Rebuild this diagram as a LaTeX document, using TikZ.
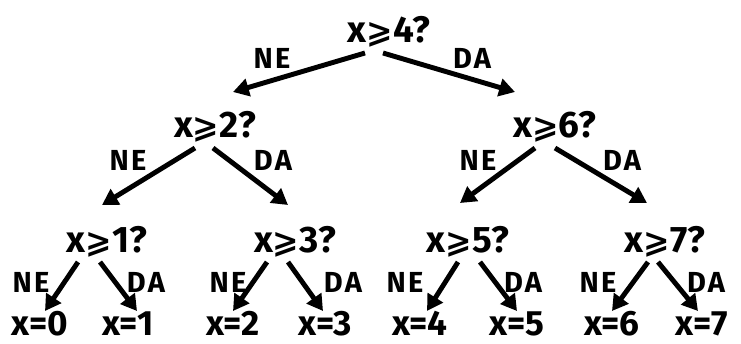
\documentclass[tikz,border=0pt]{standalone}
\usepackage{fontspec}
\setmainfont{Fira Sans}
\newfontfamily\symfont{DejaVu Sans}
\usetikzlibrary{arrows.meta}
\newcommand{\gsl}{{\symfont\bfseries\fontsize{18}{20}\selectfont ⩾}}
\begin{document}
\begin{tikzpicture}[x=0.02cm, y=-0.02cm]
  % Define styles
  \tikzstyle{question}=[anchor=base, inner sep=0pt, font=\fontsize{21}{24}\selectfont\bfseries]
  \tikzstyle{leaf}=[anchor=base, inner sep=0pt, font=\fontsize{20}{23}\selectfont\bfseries]
  \tikzstyle{answer}=[inner sep=0pt, font=\fontsize{16.5}{19}\selectfont\bfseries\addfontfeature{LetterSpace=8}]
  \tikzstyle{branch}=[-{Triangle[length=9pt, width=10pt]}, line width=2.8pt, color=black]

  \useasboundingbox (0,0) rectangle (741,344);

  % Questions
  \node[question] (q4) at (389,43) {x\gsl4?};
  \node[question] (q2) at (215,138) {x\gsl2?};
  \node[question] (q6) at (555,138) {x\gsl6?};
  \node[question] (q1) at (107,253) {x\gsl1?};
  \node[question] (q3) at (295,253) {x\gsl3?};
  \node[question] (q5) at (468,253) {x\gsl5?};
  \node[question] (q7) at (665,253) {x\gsl7?};

  % Results
  \node[leaf] (r0) at (40,336) {x=0};
  \node[leaf] (r1) at (128,336) {x=1};
  \node[leaf] (r2) at (233,336) {x=2};
  \node[leaf] (r3) at (325,336) {x=3};
  \node[leaf] (r4) at (420,336) {x=4};
  \node[leaf] (r5) at (517,336) {x=5};
  \node[leaf] (r6) at (612,336) {x=6};
  \node[leaf] (r7) at (702,336) {x=7};

  % Branches
  \draw[branch] ([shift={(-24,10)}]q4.base) -- ([shift={(18,-46)}]q2.base);
  \draw[branch] ([shift={(-6,10)}]q4.base) -- ([shift={(-40,-46)}]q6.base);
  \draw[branch] ([shift={(-20,10)}]q2.base) -- ([shift={(-5,-48)}]q1.base);
  \draw[branch] ([shift={(-2,10)}]q2.base) -- ([shift={(-7,-48)}]q3.base);
  \draw[branch] ([shift={(-20,10)}]q6.base) -- ([shift={(-8,-50)}]q5.base);
  \draw[branch] ([shift={(0,10)}]q6.base) -- ([shift={(-18,-50)}]q7.base);
  \draw[branch] ([shift={(-29,9)}]q1.base) -- ([shift={(5,-25)}]r0.base);
  \draw[branch] ([shift={(-7,9)}]q1.base) -- ([shift={(9,-25)}]r1.base);
  \draw[branch] ([shift={(-28,9)}]q3.base) -- ([shift={(0,-25)}]r2.base);
  \draw[branch] ([shift={(-7,9)}]q3.base) -- ([shift={(-2,-25)}]r3.base);
  \draw[branch] ([shift={(-10,9)}]q5.base) -- ([shift={(7,-25)}]r4.base);
  \draw[branch] ([shift={(12,9)}]q5.base) -- ([shift={(0,-25)}]r5.base);
  \draw[branch] ([shift={(-17,9)}]q7.base) -- ([shift={(0,-25)}]r6.base);
  \draw[branch] ([shift={(-7,9)}]q7.base) -- ([shift={(-4,-25)}]r7.base);

  % Answers
  \node[answer] (n4) at (272,58) {NE};
  \node[answer] (d4) at (472,58) {DA};
  \node[answer] (n2) at (128,160) {NE};
  \node[answer] (d2) at (273,160) {DA};
  \node[answer] (n6) at (478,160) {NE};
  \node[answer] (d6) at (622,160) {DA};
  \node[answer] (n1) at (31,282) {NE};
  \node[answer] (d1) at (146,282) {DA};
  \node[answer] (n3) at (228,282) {NE};
  \node[answer] (d3) at (343,282) {DA};
  \node[answer] (n5) at (405,282) {NE};
  \node[answer] (d5) at (523,282) {DA};
  \node[answer] (n7) at (598,282) {NE};
  \node[answer] (d7) at (706,282) {DA};
\end{tikzpicture}
\end{document}
